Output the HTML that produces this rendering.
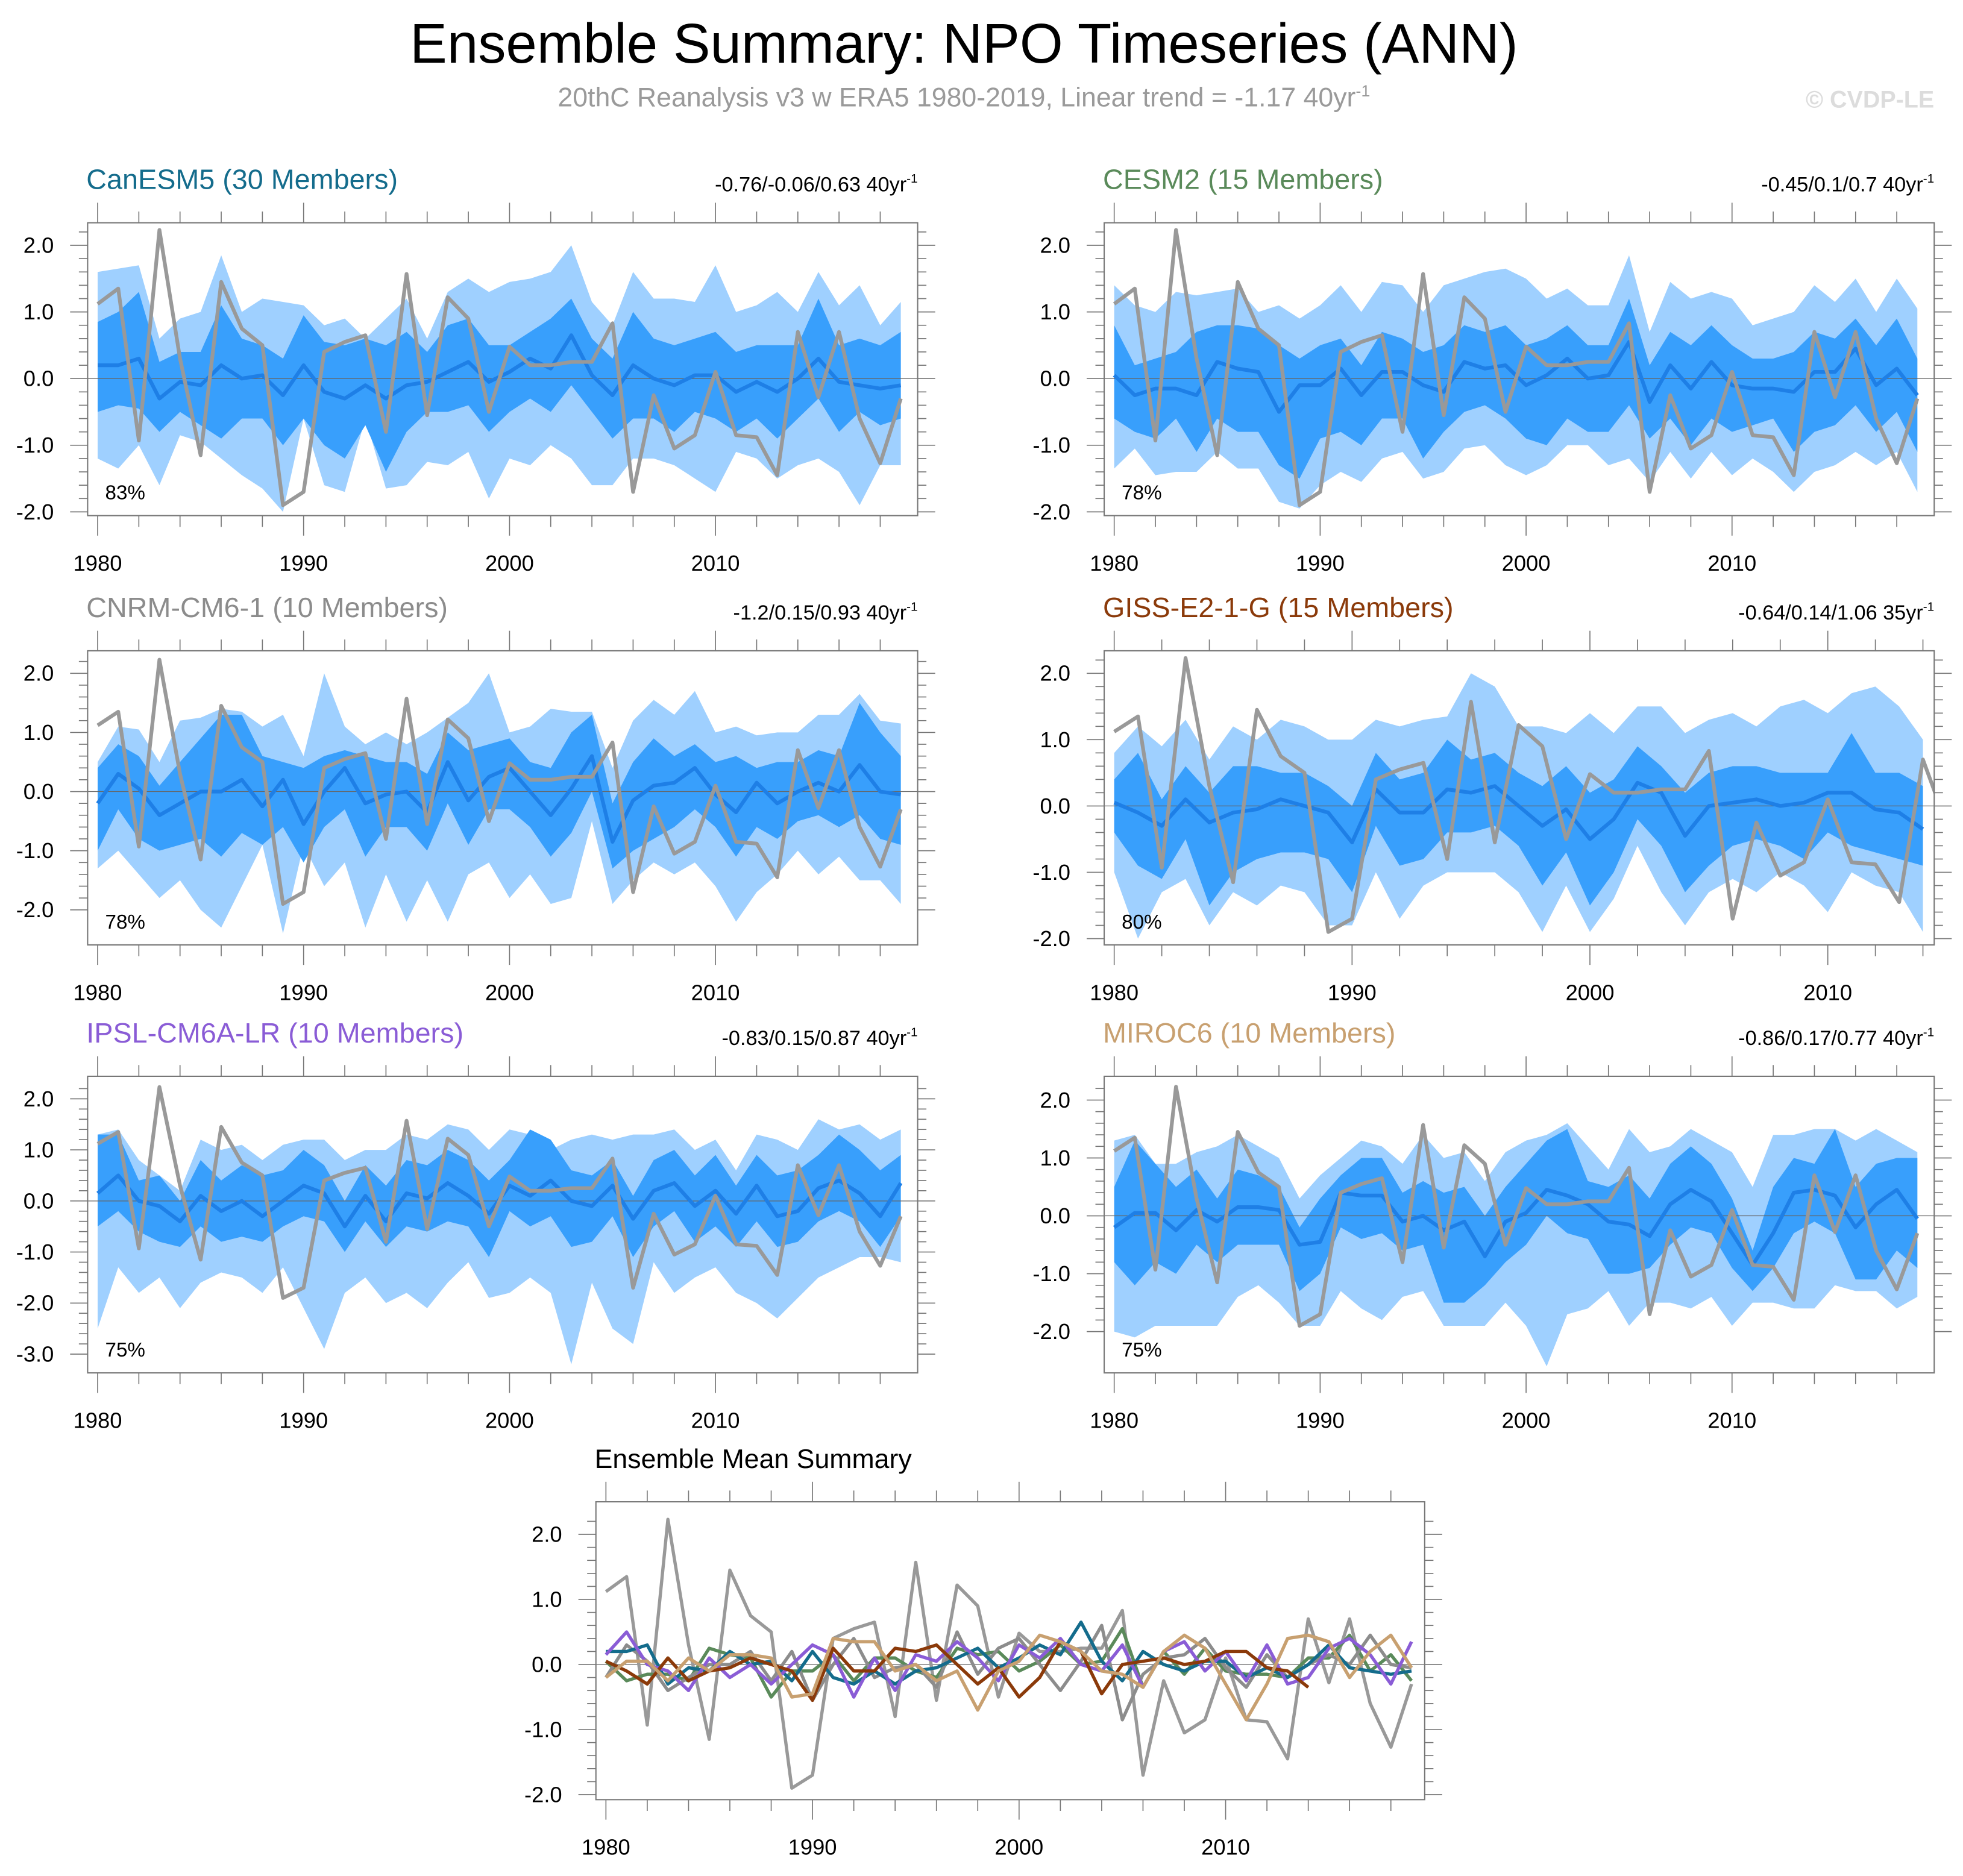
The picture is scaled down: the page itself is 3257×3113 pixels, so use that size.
<!DOCTYPE html>
<html><head><meta charset="utf-8">
<style>
html,body{margin:0;padding:0;background:#fff;}
svg{display:block;font-family:"Liberation Sans",sans-serif;}
</style></head>
<body>
<svg id="chart" width="3257" height="3113" viewBox="0 0 1568 1499" preserveAspectRatio="none" xmlns="http://www.w3.org/2000/svg">
<text x="770" y="50" font-size="44.5" text-anchor="middle" fill="#000">Ensemble Summary: NPO Timeseries (ANN)</text>
<text x="770" y="85" font-size="21.5" text-anchor="middle" fill="#9a9a9a">20thC Reanalysis v3 w ERA5 1980-2019, Linear trend = -1.17 40yr<tspan dy="-8" font-size="13">-1</tspan></text>
<text x="1545" y="86" font-size="19" font-weight="bold" text-anchor="end" fill="#dcdcdc">© CVDP-LE</text>
</svg>
<script>
const obs=[1.12,1.35,-0.93,2.23,0.3,-1.15,1.45,0.75,0.5,-1.9,-1.7,0.4,0.55,0.65,-0.8,1.57,-0.55,1.22,0.9,-0.5,0.48,0.2,0.2,0.25,0.25,0.83,-1.7,-0.25,-1.05,-0.85,0.1,-0.85,-0.88,-1.45,0.7,-0.28,0.7,-0.6,-1.27,-0.3];
const canMean=[0.2,0.2,0.3,-0.3,-0.05,-0.1,0.2,0.0,0.05,-0.25,0.2,-0.2,-0.3,-0.1,-0.3,-0.1,-0.05,0.1,0.25,-0.05,0.1,0.3,0.15,0.65,0.05,-0.25,0.2,0.0,-0.1,0.05,0.05,-0.2,-0.05,-0.2,0.0,0.3,-0.05,-0.1,-0.15,-0.1];
const canP90=[0.85,1.0,1.3,0.25,0.4,0.4,1.1,0.6,0.5,0.3,0.95,0.55,0.5,0.6,0.5,0.7,0.4,0.8,0.9,0.5,0.5,0.7,0.9,1.2,0.6,0.3,1.0,0.6,0.5,0.6,0.7,0.4,0.5,0.5,0.5,1.2,0.5,0.6,0.5,0.7];
const canP10=[-0.5,-0.4,-0.45,-0.8,-0.5,-0.7,-0.9,-0.6,-0.6,-1.0,-0.6,-1.0,-1.2,-0.7,-1.4,-0.8,-0.5,-0.5,-0.4,-0.8,-0.5,-0.3,-0.5,-0.1,-0.5,-0.9,-0.6,-0.6,-0.8,-0.5,-0.6,-0.8,-0.6,-0.9,-0.6,-0.3,-0.8,-0.5,-0.7,-0.6];
const canMax=[1.6,1.65,1.7,0.6,0.9,1.0,1.85,1.0,1.2,1.15,1.1,0.8,0.9,0.6,0.9,1.2,0.6,1.3,1.5,1.3,1.45,1.5,1.6,2.0,1.15,0.8,1.6,1.2,1.2,1.15,1.7,1.0,1.1,1.3,1.0,1.6,1.1,1.4,0.8,1.15];
const canMin=[-1.2,-1.35,-1.0,-1.6,-0.85,-0.95,-1.2,-1.45,-1.65,-2.0,-0.6,-1.6,-1.7,-0.6,-1.65,-1.6,-1.25,-1.3,-1.1,-1.8,-1.2,-1.3,-1.0,-1.2,-1.6,-1.6,-1.2,-1.2,-1.3,-1.5,-1.7,-1.1,-1.2,-1.5,-1.3,-1.2,-1.4,-1.9,-1.3,-1.3];
const cesMean=[0.05,-0.25,-0.15,-0.15,-0.25,0.25,0.15,0.1,-0.5,-0.1,-0.1,0.15,-0.25,0.1,0.1,-0.1,-0.2,0.25,0.15,0.2,-0.1,0.05,0.3,0.0,0.05,0.55,-0.35,0.2,-0.15,0.25,-0.1,-0.15,-0.15,-0.2,0.1,0.1,0.45,-0.1,0.15,-0.25];
const cesP90=[0.8,0.2,0.3,0.4,0.7,0.8,0.8,0.75,0.5,0.3,0.5,0.6,0.2,0.7,0.6,0.4,0.5,0.8,0.7,0.8,0.5,0.6,0.8,0.5,0.5,1.2,0.2,0.7,0.5,0.8,0.5,0.3,0.3,0.4,0.7,0.6,0.9,0.5,0.9,0.3];
const cesP10=[-0.6,-0.8,-0.9,-0.6,-1.1,-0.6,-0.8,-0.8,-1.3,-1.5,-0.9,-0.8,-1.0,-0.6,-0.6,-1.2,-0.8,-0.5,-0.4,-0.6,-0.9,-1.0,-0.6,-0.8,-0.8,-0.4,-0.9,-0.6,-1.0,-0.6,-0.8,-0.7,-0.6,-1.1,-0.8,-0.7,-0.4,-0.8,-0.5,-1.1];
const cesMax=[1.4,1.1,1.0,1.3,1.25,1.3,1.35,1.0,1.1,0.9,1.1,1.4,1.0,1.45,1.4,1.0,1.4,1.5,1.6,1.65,1.5,1.2,1.35,1.1,1.1,1.85,0.7,1.45,1.2,1.3,1.2,0.8,0.9,1.0,1.4,1.15,1.5,1.0,1.5,1.05];
const cesMin=[-1.35,-1.05,-1.45,-1.4,-1.4,-1.1,-1.35,-1.35,-1.85,-1.95,-1.6,-1.4,-1.55,-1.2,-1.1,-1.5,-1.4,-1.05,-1.0,-1.3,-1.45,-1.3,-1.0,-1.0,-1.3,-1.2,-1.55,-1.1,-1.5,-1.1,-1.45,-1.2,-1.4,-1.7,-1.4,-1.3,-1.1,-1.3,-1.1,-1.7];
const cnrMean=[-0.2,0.3,0.05,-0.4,-0.2,0.0,0.0,0.2,-0.25,0.2,-0.55,0.0,0.4,-0.2,-0.05,0.0,-0.35,0.5,-0.15,0.25,0.4,0.0,-0.4,0.05,0.6,-0.85,-0.15,0.1,0.15,0.4,-0.05,-0.35,0.15,-0.2,0.0,0.15,0.0,0.45,0.0,-0.05];
const cnrP90=[0.4,0.8,0.6,0.1,0.5,0.9,1.3,1.3,0.6,0.5,0.4,0.6,0.7,0.6,0.5,0.5,0.3,1.0,0.7,0.8,0.9,0.5,0.4,1.0,1.3,-0.2,0.5,0.9,0.6,0.8,0.5,0.6,0.4,0.5,0.5,0.7,0.6,1.5,1.0,0.6];
const cnrP10=[-1.0,-0.3,-0.8,-1.0,-0.9,-0.8,-1.1,-0.7,-0.9,-0.6,-1.2,-0.6,-0.3,-1.1,-0.6,-0.6,-1.0,-0.2,-0.9,-0.3,-0.3,-0.6,-1.1,-0.7,0.0,-1.3,-1.0,-0.8,-0.6,-0.3,-0.6,-1.1,-0.6,-0.8,-0.5,-0.4,-0.6,-0.4,-0.8,-0.9];
const cnrMax=[0.5,1.1,1.05,0.5,1.2,1.25,1.4,1.35,1.1,1.3,0.6,2.0,1.1,0.8,1.0,0.8,1.0,1.25,1.5,2.0,1.0,1.1,1.4,1.35,1.35,0.4,1.2,1.55,1.3,1.7,1.0,1.1,0.95,1.0,1.0,1.3,1.3,1.65,1.2,1.15];
const cnrMin=[-1.3,-1.0,-1.4,-1.8,-1.5,-2.0,-2.3,-1.6,-0.9,-2.4,-0.9,-1.6,-1.2,-2.3,-1.4,-2.2,-1.5,-2.2,-1.4,-1.2,-1.8,-1.4,-1.9,-1.8,-0.5,-1.9,-1.5,-1.2,-1.4,-1.2,-1.6,-2.2,-1.7,-1.4,-1.0,-1.4,-1.1,-1.5,-1.5,-1.9];
const gisMean=[0.05,-0.1,-0.3,0.1,-0.25,-0.1,-0.05,0.1,0.0,-0.1,-0.55,0.25,-0.1,-0.1,0.25,0.2,0.3,0.0,-0.3,-0.05,-0.5,-0.2,0.35,0.2,-0.45,0.0,0.05,0.1,0.0,0.05,0.2,0.2,-0.05,-0.1,-0.35];
const gisP90=[0.4,0.8,0.1,0.6,0.2,0.6,0.6,0.5,0.5,0.3,0.0,0.8,0.4,0.5,1.0,0.7,0.8,0.5,0.3,0.6,0.2,0.4,0.9,0.6,0.2,0.5,0.6,0.6,0.5,0.5,0.5,1.1,0.5,0.5,0.3];
const gisP10=[-0.4,-0.9,-1.1,-0.5,-1.5,-1.0,-0.8,-0.7,-0.7,-0.8,-1.3,-0.3,-0.9,-0.8,-0.4,-0.4,-0.3,-0.6,-1.2,-0.7,-1.5,-1.0,-0.2,-0.6,-1.3,-0.9,-0.6,-0.5,-0.6,-0.8,-0.4,-0.6,-0.7,-0.8,-0.9];
const gisMax=[0.8,1.2,0.9,1.3,0.7,1.2,1.0,1.3,1.2,1.0,1.0,1.3,1.2,1.3,1.35,2.0,1.8,1.2,1.2,1.1,1.4,1.1,1.5,1.5,1.1,1.3,1.4,1.2,1.5,1.6,1.4,1.7,1.8,1.5,1.0];
const gisMin=[-1.0,-2.0,-1.3,-1.1,-1.8,-1.3,-1.5,-1.2,-1.3,-1.8,-1.8,-1.0,-1.7,-1.2,-1.0,-1.0,-1.0,-1.3,-1.9,-1.2,-1.9,-1.4,-0.6,-1.3,-1.8,-1.3,-1.1,-1.3,-1.0,-1.2,-1.6,-1.0,-1.2,-1.3,-1.9];
const ipsMean=[0.15,0.5,0.0,-0.1,-0.4,0.1,-0.2,0.0,-0.3,0.0,0.3,0.15,-0.5,0.1,-0.4,0.15,0.05,0.35,0.1,-0.25,0.3,0.1,0.4,0.0,-0.1,0.3,-0.35,0.2,0.35,-0.1,0.2,-0.25,0.3,-0.3,-0.2,0.25,0.4,0.15,-0.3,0.35];
const ipsP90=[1.3,1.3,0.4,0.5,0.0,0.8,0.4,0.7,0.5,0.6,1.0,0.7,0.0,0.7,0.3,0.8,0.7,1.0,0.8,0.4,0.8,1.4,1.2,0.6,0.5,0.8,0.1,0.8,1.0,0.5,0.9,0.3,0.9,0.5,0.6,0.9,1.3,1.0,0.6,0.9];
const ipsP10=[-0.5,-0.2,-0.6,-0.8,-0.9,-0.5,-0.8,-0.7,-0.8,-0.5,-0.3,-0.4,-1.0,-0.4,-0.9,-0.5,-0.6,-0.4,-0.5,-1.1,-0.2,-0.5,-0.3,-0.9,-0.8,-0.3,-1.1,-0.5,-0.2,-0.8,-0.5,-0.9,-0.4,-0.9,-0.8,-0.4,-0.2,-0.4,-0.9,-0.3];
const ipsMax=[1.3,1.4,0.8,0.5,0.2,1.2,1.0,1.1,0.8,1.1,1.2,1.2,0.8,1.0,1.0,1.3,1.2,1.5,1.4,1.0,1.4,1.3,1.0,1.2,1.3,1.2,1.3,1.3,1.4,1.0,1.2,0.6,1.3,1.2,1.0,1.6,1.4,1.5,1.2,1.4];
const ipsMin=[-2.5,-1.3,-1.8,-1.5,-2.1,-1.6,-1.4,-1.5,-1.8,-1.3,-2.1,-2.9,-1.8,-1.5,-2.0,-1.8,-2.1,-1.6,-1.2,-1.9,-1.8,-1.5,-1.8,-3.2,-1.6,-2.5,-2.8,-1.2,-1.8,-1.5,-1.3,-1.8,-2.0,-2.3,-1.9,-1.5,-1.3,-1.1,-1.1,-1.2];
const mirMean=[-0.2,0.05,0.05,-0.25,0.1,-0.1,0.15,0.15,0.1,-0.5,-0.45,0.4,0.35,0.35,-0.1,0.0,-0.25,-0.1,-0.7,-0.1,0.05,0.45,0.35,0.2,-0.1,-0.15,-0.35,0.2,0.45,0.25,-0.3,-0.85,-0.3,0.4,0.45,0.35,-0.2,0.2,0.45,-0.05];
const mirP90=[0.5,1.3,0.9,0.5,0.8,0.3,0.8,0.7,0.5,-0.2,0.3,0.7,1.0,1.0,0.4,0.6,0.4,0.5,0.0,0.5,0.9,1.3,1.5,0.6,0.5,0.7,0.3,0.9,1.2,0.9,0.3,-0.6,0.5,1.0,0.9,1.5,0.5,0.9,1.0,1.0];
const mirP10=[-0.8,-1.2,-0.8,-1.0,-0.5,-0.8,-0.5,-0.5,-0.5,-1.3,-1.0,-0.2,-0.4,-0.3,-0.6,-0.5,-1.5,-1.5,-1.2,-0.8,-0.5,0.0,-0.3,-0.4,-1.0,-1.0,-0.9,-0.5,-0.2,-0.3,-0.9,-1.3,-0.9,-0.3,-0.1,-0.3,-1.1,-1.1,-0.6,-0.9];
const mirMax=[1.3,1.4,0.9,0.9,1.1,1.2,1.4,1.2,1.0,0.3,0.7,1.0,1.3,1.2,0.9,1.4,1.0,1.1,0.6,1.1,1.3,1.4,1.6,1.2,0.8,1.5,1.1,1.2,1.5,1.3,1.1,0.5,1.4,1.4,1.5,1.5,1.3,1.5,1.3,1.1];
const mirMin=[-2.0,-2.1,-1.9,-1.9,-1.9,-1.9,-1.4,-1.2,-1.5,-1.9,-1.9,-1.3,-1.6,-1.8,-1.4,-1.3,-1.9,-1.9,-1.9,-1.5,-1.9,-2.6,-1.7,-1.6,-1.3,-1.9,-1.5,-1.5,-1.6,-1.4,-1.9,-1.5,-1.5,-1.6,-1.6,-1.2,-1.3,-1.3,-1.6,-1.4];
const yTicks2=[-2,-1,0,1,2];
const yTicks3=[-3,-2,-1,0,1,2];
const xTickYears=[1980,1990,2000,2010];

const NS='http://www.w3.org/2000/svg';
const svg=document.getElementById('chart');
function mk(tag,attrs,parent){const e=document.createElementNS(NS,tag);for(const k in attrs)e.setAttribute(k,attrs[k]);(parent||svg).appendChild(e);return e;}

let clipId=0;
function panel(cfg){
  const g=mk('g',{});
  
  
  const X=yr=>cfg.x80+(yr-1980)*cfg.dx;
  const Y=v=>cfg.y0-v*cfg.dy;
  const cid='clip'+(clipId++);
  const cp=mk('clipPath',{id:cid},g);
  mk('rect',{x:cfg.bx0,y:cfg.by0,width:cfg.bx1-cfg.bx0,height:cfg.by1-cfg.by0},cp);
  const pg=mk('g',{'clip-path':'url(#'+cid+')'},g);
  function band(lo,hi,col,nm){
    let d='';
    hi.forEach((v,i)=>{d+=(i?'L':'M')+X(1980+i)+','+Y(v);});
    for(let i=lo.length-1;i>=0;i--)d+='L'+X(1980+i)+','+Y(lo[i]);
    const p=mk('path',{d:d+'Z',fill:col,stroke:'none'},pg);
    
    
  }
  function line(arr,col,w,nm){
    const d=arr.map((v,i)=>(i?'L':'M')+X(1980+i)+','+Y(v)).join('');
    const p=mk('path',{d:d,fill:'none',stroke:col,'stroke-width':w,'stroke-linejoin':'round'},pg);
    
    
  }
  if(cfg.min){band(cfg.min,cfg.max,'#9fd0ff','min-max-band');band(cfg.p10,cfg.p90,'#389ffc','p10-p90-band');}
  mk('line',{x1:cfg.bx0,x2:cfg.bx1,y1:Y(0),y2:Y(0),stroke:'#666','stroke-width':0.6},pg);
  if(cfg.lines){cfg.lines.forEach(l=>line(l[0],l[1],2.6,l[2]));}
  else{line(cfg.mean,'#1e7fe6',3,'ensemble-mean-line');line(obs,'#999',3,'observed-line');}
  mk('rect',{x:cfg.bx0,y:cfg.by0,width:cfg.bx1-cfg.bx0,height:cfg.by1-cfg.by0,fill:'none',stroke:'#777','stroke-width':1},g);
  const ymin=cfg.yt[0],ymax=cfg.yt[cfg.yt.length-1];
  for(let k=Math.round(ymin*5);k<=Math.round(ymax*5)+1;k++){
    const v=k/5,yy=Y(v);
    if(yy<cfg.by0||yy>cfg.by1)continue;
    const major=k%5===0;const L=major?14:7;
    mk('line',{x1:cfg.bx0-L,x2:cfg.bx0,y1:yy,y2:yy,stroke:'#777','stroke-width':0.8},g);
    mk('line',{x1:cfg.bx1,x2:cfg.bx1+L,y1:yy,y2:yy,stroke:'#777','stroke-width':0.8},g);
  }
  cfg.yt.forEach(v=>{
    const t=mk('text',{x:cfg.bx0-27,y:Y(v)+6,'font-size':17.5,'text-anchor':'end',fill:'#000'},g);
    t.textContent=v.toFixed(1);
    
    
  });
  for(let yr=1980;X(yr)<=cfg.bx1;yr+=2){
    const xx=X(yr);const major=(yr%10===0);const L=major?16:9;
    mk('line',{x1:xx,x2:xx,y1:cfg.by1,y2:cfg.by1+L,stroke:'#777','stroke-width':0.8},g);
    mk('line',{x1:xx,x2:xx,y1:cfg.by0-L,y2:cfg.by0,stroke:'#777','stroke-width':0.8},g);
  }
  xTickYears.forEach(yr=>{
    const t=mk('text',{x:X(yr),y:cfg.by1+44,'font-size':17.5,'text-anchor':'middle',fill:'#000'},g);
    t.textContent=yr;
    
    
  });
  const tt=mk('text',{x:cfg.bx0-1,y:cfg.by0-27,'font-size':cfg.tsize||22.5,fill:cfg.tcol},g);
  tt.textContent=cfg.title;
  
  
  if(cfg.trend){
    const tr=mk('text',{x:cfg.bx1,y:cfg.by0-25,'font-size':16.5,'text-anchor':'end',fill:'#000'},g);
    tr.innerHTML=cfg.trend+'<tspan dy="-7" font-size="10">-1</tspan>';
    
    
  }
  if(cfg.pct){
    const pt=mk('text',{x:cfg.bx0+14,y:cfg.by1-13,'font-size':16,fill:'#000'},g);
    pt.textContent=cfg.pct;
    
    
  }
}
const L0=70,L1=733,R0=882,R1=1545;
panel({name:'canesm5-panel',title:'CanESM5 (30 Members)',tcol:'#146c8c',trend:'-0.76/-0.06/0.63 40yr',pct:'83%',bx0:L0,bx1:L1,by0:178,by1:412,x80:78,dx:16.45,y0:302.5,dy:53.25,yt:yTicks2,mean:canMean,p10:canP10,p90:canP90,min:canMin,max:canMax});
panel({name:'cesm2-panel',title:'CESM2 (15 Members)',tcol:'#5a8a5a',trend:'-0.45/0.1/0.7 40yr',pct:'78%',bx0:R0,bx1:R1,by0:178,by1:412,x80:890,dx:16.45,y0:302.5,dy:53.25,yt:yTicks2,mean:cesMean,p10:cesP10,p90:cesP90,min:cesMin,max:cesMax});
panel({name:'cnrm-panel',title:'CNRM-CM6-1 (10 Members)',tcol:'#8c8c8c',trend:'-1.2/0.15/0.93 40yr',pct:'78%',bx0:L0,bx1:L1,by0:520,by1:755,x80:78,dx:16.45,y0:632.5,dy:47.25,yt:yTicks2,mean:cnrMean,p10:cnrP10,p90:cnrP90,min:cnrMin,max:cnrMax});
panel({name:'giss-panel',title:'GISS-E2-1-G (15 Members)',tcol:'#8b3a0a',trend:'-0.64/0.14/1.06 35yr',pct:'80%',bx0:R0,bx1:R1,by0:520,by1:755,x80:890,dx:19,y0:644,dy:53,yt:yTicks2,mean:gisMean,p10:gisP10,p90:gisP90,min:gisMin,max:gisMax});
panel({name:'ipsl-panel',title:'IPSL-CM6A-LR (10 Members)',tcol:'#8a5cd6',trend:'-0.83/0.15/0.87 40yr',pct:'75%',bx0:L0,bx1:L1,by0:860,by1:1097,x80:78,dx:16.45,y0:959.6,dy:40.8,yt:yTicks3,mean:ipsMean,p10:ipsP10,p90:ipsP90,min:ipsMin,max:ipsMax});
panel({name:'miroc6-panel',title:'MIROC6 (10 Members)',tcol:'#c8a070',trend:'-0.86/0.17/0.77 40yr',pct:'75%',bx0:R0,bx1:R1,by0:860,by1:1097,x80:890,dx:16.45,y0:971.5,dy:46.25,yt:yTicks2,mean:mirMean,p10:mirP10,p90:mirP90,min:mirMin,max:mirMax});
panel({name:'ensemble-mean-summary-panel',title:'Ensemble Mean Summary',tcol:'#000',tsize:21.5,bx0:476,bx1:1138,by0:1200,by1:1438,x80:484,dx:16.5,y0:1330,dy:52,yt:yTicks2,
  lines:[[obs,'#999','observed-line'],[cesMean,'#5a8a5a','cesm2-mean-line'],[cnrMean,'#8c8c8c','cnrm-mean-line'],[canMean,'#146c8c','canesm5-mean-line'],[ipsMean,'#8a5cd6','ipsl-mean-line'],[gisMean,'#8b3a0a','giss-mean-line'],[mirMean,'#c8a070','miroc6-mean-line']]});
</script>
</body></html>
